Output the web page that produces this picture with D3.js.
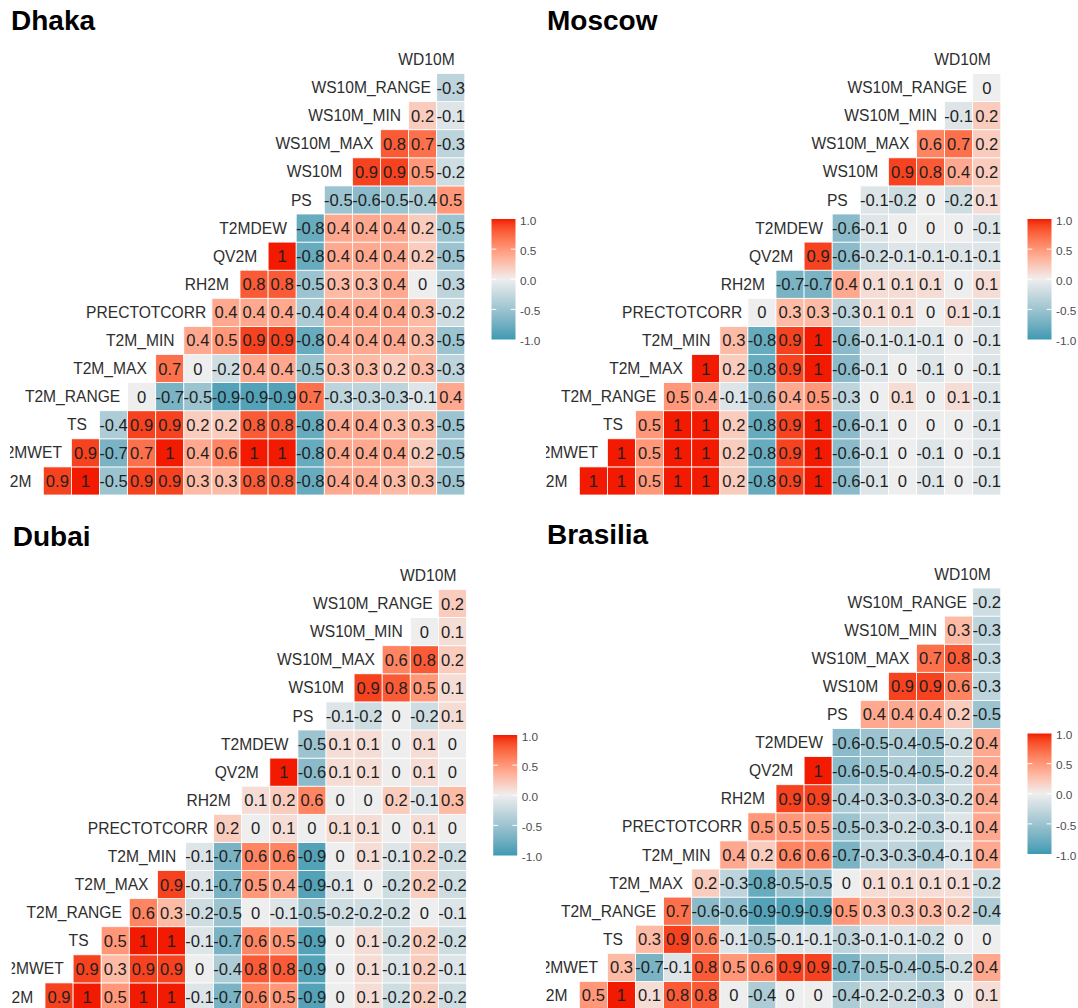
<!DOCTYPE html>
<html>
<head>
<meta charset="utf-8">
<script src="https://cdn.jsdelivr.net/npm/d3@7"></script>
<style>
  body { margin: 0; background: #ffffff; }
  svg { display: block; }
</style>
</head>
<body>
<svg id="chart" width="1078" height="1008"></svg>
<script>
// Weather variables, listed from the bottom row of each triangle to the top.
const variables = ["T2M", "T2MWET", "TS", "T2M_RANGE", "T2M_MAX", "T2M_MIN", "PRECTOTCORR",
  "RH2M", "QV2M", "T2MDEW", "PS", "WS10M", "WS10M_MAX", "WS10M_MIN", "WS10M_RANGE", "WD10M"];

const cityNames = ["Dhaka", "Moscow", "Dubai", "Brasilia"];

// Row r holds the correlations of variables[r] with variables[r+1 .. 15].
const dhakaCorr = [
  [0.9, 1, -0.5, 0.9, 0.9, 0.3, 0.3, 0.8, 0.8, -0.8, 0.4, 0.4, 0.3, 0.3, -0.5],
  [0.9, -0.7, 0.7, 1, 0.4, 0.6, 1, 1, -0.8, 0.4, 0.4, 0.4, 0.2, -0.5],
  [-0.4, 0.9, 0.9, 0.2, 0.2, 0.8, 0.8, -0.8, 0.4, 0.4, 0.3, 0.3, -0.5],
  [0, -0.7, -0.5, -0.9, -0.9, -0.9, 0.7, -0.3, -0.3, -0.3, -0.1, 0.4],
  [0.7, 0, -0.2, 0.4, 0.4, -0.5, 0.3, 0.3, 0.2, 0.3, -0.3],
  [0.4, 0.5, 0.9, 0.9, -0.8, 0.4, 0.4, 0.4, 0.3, -0.5],
  [0.4, 0.4, 0.4, -0.4, 0.4, 0.4, 0.4, 0.3, -0.2],
  [0.8, 0.8, -0.5, 0.3, 0.3, 0.4, 0, -0.3],
  [1, -0.8, 0.4, 0.4, 0.4, 0.2, -0.5],
  [-0.8, 0.4, 0.4, 0.4, 0.2, -0.5],
  [-0.5, -0.6, -0.5, -0.4, 0.5],
  [0.9, 0.9, 0.5, -0.2],
  [0.8, 0.7, -0.3],
  [0.2, -0.1],
  [-0.3]
];

const moscowCorr = [
  [1, 1, 0.5, 1, 1, 0.2, -0.8, 0.9, 1, -0.6, -0.1, 0, -0.1, 0, -0.1],
  [1, 0.5, 1, 1, 0.2, -0.8, 0.9, 1, -0.6, -0.1, 0, -0.1, 0, -0.1],
  [0.5, 1, 1, 0.2, -0.8, 0.9, 1, -0.6, -0.1, 0, 0, 0, -0.1],
  [0.5, 0.4, -0.1, -0.6, 0.4, 0.5, -0.3, 0, 0.1, 0, 0.1, -0.1],
  [1, 0.2, -0.8, 0.9, 1, -0.6, -0.1, 0, -0.1, 0, -0.1],
  [0.3, -0.8, 0.9, 1, -0.6, -0.1, -0.1, -0.1, 0, -0.1],
  [0, 0.3, 0.3, -0.3, 0.1, 0.1, 0, 0.1, -0.1],
  [-0.7, -0.7, 0.4, 0.1, 0.1, 0.1, 0, 0.1],
  [0.9, -0.6, -0.2, -0.1, -0.1, -0.1, -0.1],
  [-0.6, -0.1, 0, 0, 0, -0.1],
  [-0.1, -0.2, 0, -0.2, 0.1],
  [0.9, 0.8, 0.4, 0.2],
  [0.6, 0.7, 0.2],
  [-0.1, 0.2],
  [0]
];

const dubaiCorr = [
  [0.9, 1, 0.5, 1, 1, -0.1, -0.7, 0.6, 0.5, -0.9, 0, 0.1, -0.2, 0.2, -0.2],
  [0.9, 0.3, 0.9, 0.9, 0, -0.4, 0.8, 0.8, -0.9, 0, 0.1, -0.1, 0.2, -0.1],
  [0.5, 1, 1, -0.1, -0.7, 0.6, 0.5, -0.9, 0, 0.1, -0.2, 0.2, -0.2],
  [0.6, 0.3, -0.2, -0.5, 0, -0.1, -0.5, -0.2, -0.2, -0.2, 0, -0.1],
  [0.9, -0.1, -0.7, 0.5, 0.4, -0.9, -0.1, 0, -0.2, 0.2, -0.2],
  [-0.1, -0.7, 0.6, 0.6, -0.9, 0, 0.1, -0.1, 0.2, -0.2],
  [0.2, 0, 0.1, 0, 0.1, 0.1, 0, 0.1, 0],
  [0.1, 0.2, 0.6, 0, 0, 0.2, -0.1, 0.3],
  [1, -0.6, 0.1, 0.1, 0, 0.1, 0],
  [-0.5, 0.1, 0.1, 0, 0.1, 0],
  [-0.1, -0.2, 0, -0.2, 0.1],
  [0.9, 0.8, 0.5, 0.1],
  [0.6, 0.8, 0.2],
  [0, 0.1],
  [0.2]
];

const brasiliaCorr = [
  [0.5, 1, 0.1, 0.8, 0.8, 0, -0.4, 0, 0, -0.4, -0.2, -0.2, -0.3, 0, 0.1],
  [0.3, -0.7, -0.1, 0.8, 0.5, 0.6, 0.9, 0.9, -0.7, -0.5, -0.4, -0.5, -0.2, 0.4],
  [0.3, 0.9, 0.6, -0.1, -0.5, -0.1, -0.1, -0.3, -0.1, -0.1, -0.2, 0, 0],
  [0.7, -0.6, -0.6, -0.9, -0.9, -0.9, 0.5, 0.3, 0.3, 0.3, 0.2, -0.4],
  [0.2, -0.3, -0.8, -0.5, -0.5, 0, 0.1, 0.1, 0.1, 0.1, -0.2],
  [0.4, 0.2, 0.6, 0.6, -0.7, -0.3, -0.3, -0.4, -0.1, 0.4],
  [0.5, 0.5, 0.5, -0.5, -0.3, -0.2, -0.3, -0.1, 0.4],
  [0.9, 0.9, -0.4, -0.3, -0.3, -0.3, -0.2, 0.4],
  [1, -0.6, -0.5, -0.4, -0.5, -0.2, 0.4],
  [-0.6, -0.5, -0.4, -0.5, -0.2, 0.4],
  [0.4, 0.4, 0.4, 0.2, -0.5],
  [0.9, 0.9, 0.6, -0.3],
  [0.7, 0.8, -0.3],
  [0.3, -0.3],
  [-0.2]
];

const legendTicks = [1, 0.5, 0, -0.5, -1];
const legendTickLabels = ["1.0", "0.5", "0.0", "-0.5", "-1.0"];

// Panel placement on the page
const panels = [
  { name: cityNames[0], corr: dhakaCorr,    ox: 0,   oy: 0 },
  { name: cityNames[1], corr: moscowCorr,   ox: 536, oy: 0 },
  { name: cityNames[2], corr: dubaiCorr,    ox: 1.7, oy: 516 },
  { name: cityNames[3], corr: brasiliaCorr, ox: 536, oy: 514.5 }
];

const FONT = "'Liberation Sans', Arial, Helvetica, sans-serif";
const CELL = 28.1;
const GRID_LEFT = 15.2;
const GRID_BOTTOM = 495;
const LABEL_HJUST = 0.93;
const VALUE_SIZE = 16.6;
const NAME_SIZE = 15.6;
const TITLE_SIZE = 28;

// Diverging fill: blue (-1) → light grey (0) → red (+1)
const fill = d3.scaleLinear()
  .domain([-1, 0, 1])
  .range(["#3B9AB2", "#EEEEEE", "#F21A00"])
  .interpolate(d3.interpolateLab);

const svg = d3.select("#chart");
const defs = svg.append("defs");

const grad = defs.append("linearGradient")
  .attr("id", "corrGradient")
  .attr("x1", 0).attr("y1", 1).attr("x2", 0).attr("y2", 0);
d3.range(0, 1.0001, 0.025).forEach(t => {
  grad.append("stop").attr("offset", t).attr("stop-color", fill(-1 + 2 * t));
});

panels.forEach((p, i) => {
  const g = svg.append("g").attr("transform", `translate(${p.ox},${p.oy})`);

  const clipId = "panelClip" + i;
  defs.append("clipPath").attr("id", clipId)
    .append("rect").attr("x", 10).attr("y", 0).attr("width", 470).attr("height", 520);

  // Title
  g.append("text")
    .attr("x", 11).attr("y", 29.5)
    .attr("font-family", FONT).attr("font-size", TITLE_SIZE).attr("font-weight", "bold")
    .attr("fill", "#000")
    .text(p.name);

  const x = d3.scaleBand().domain(variables)
    .range([GRID_LEFT, GRID_LEFT + CELL * variables.length]);
  const y = d3.scaleBand().domain(variables)
    .range([GRID_BOTTOM, GRID_BOTTOM - CELL * variables.length]);

  const cells = [];
  p.corr.forEach((row, r) => {
    row.forEach((v, k) => {
      cells.push({ row: variables[r], col: variables[r + 1 + k], value: v });
    });
  });

  const body = g.append("g").attr("clip-path", `url(#${clipId})`);

  body.selectAll("rect.cell").data(cells).join("rect")
    .attr("class", "cell")
    .attr("x", d => x(d.col))
    .attr("y", d => y(d.row))
    .attr("width", x.bandwidth())
    .attr("height", y.bandwidth())
    .attr("fill", d => fill(d.value))
    .attr("stroke", "#ffffff")
    .attr("stroke-width", 0.8);

  body.selectAll("text.val").data(cells).join("text")
    .attr("class", "val")
    .attr("x", d => x(d.col) + x.bandwidth() / 2)
    .attr("y", d => y(d.row) + y.bandwidth() / 2)
    .attr("dy", "0.36em")
    .attr("text-anchor", "middle")
    .attr("font-family", FONT).attr("font-size", VALUE_SIZE)
    .attr("fill", "#1f1f1f")
    .text(d => String(d.value));

  // Variable names along the diagonal
  body.selectAll("text.diag").data(variables).join("text")
    .attr("class", "diag")
    .attr("font-family", FONT).attr("font-size", NAME_SIZE)
    .attr("fill", "#2e2e2e")
    .attr("y", d => y(d) + y.bandwidth() / 2)
    .attr("dy", "0.36em")
    .text(d => d)
    .attr("x", function (d) {
      const w = this.getComputedTextLength();
      return x(d) + x.bandwidth() / 2 - LABEL_HJUST * w;
    });

  // Colour bar legend
  const ly = d3.scaleLinear().domain([-1, 1]).range([339.5, 219]);
  const legend = g.append("g").attr("transform", "translate(491.5,0)");
  const barW = 24;
  legend.append("rect")
    .attr("x", 0).attr("y", ly(1))
    .attr("width", barW).attr("height", ly(-1) - ly(1))
    .attr("fill", "url(#corrGradient)");
  legend.selectAll("g.tick").data(legendTicks.filter(v => Math.abs(v) < 1)).join("g")
    .attr("class", "tick")
    .each(function (v) {
      const t = d3.select(this);
      t.append("line").attr("x1", 0).attr("x2", barW / 5)
        .attr("y1", ly(v)).attr("y2", ly(v)).attr("stroke", "#fff").attr("stroke-width", 1);
      t.append("line").attr("x1", barW - barW / 5).attr("x2", barW)
        .attr("y1", ly(v)).attr("y2", ly(v)).attr("stroke", "#fff").attr("stroke-width", 1);
    });
  legend.selectAll("text.lab").data(legendTicks).join("text")
    .attr("class", "lab")
    .attr("x", barW + 4.5)
    .attr("y", v => ly(v) + 1.5)
    .attr("dy", "0.36em")
    .attr("font-family", FONT).attr("font-size", 11.8)
    .attr("fill", "#4d4d4d")
    .text((v, k) => legendTickLabels[k]);
});
</script>
</body>
</html>
